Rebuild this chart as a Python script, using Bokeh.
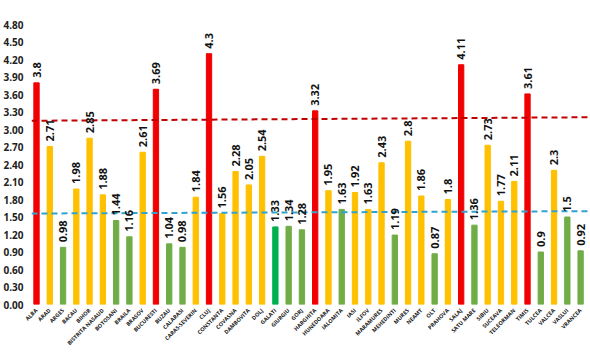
import math
from bokeh.plotting import figure
from bokeh.models import ColumnDataSource, Range1d, FixedTicker, LabelSet, NumeralTickFormatter
from bokeh.core.properties import value
from bokeh.embed import file_html
from bokeh.resources import INLINE

counties = ["ALBA", "ARAD", "ARGES", "BACAU", "BIHOR", "BISTRITA NASAUD", "BOTOSANI", "BRAILA",
            "BRASOV", "BUCURESTI", "BUZAU", "CALARASI", "CARAS-SEVERIN", "CLUJ", "CONSTANTA",
            "COVASNA", "DAMBOVITA", "DOLJ", "GALATI", "GIURGIU", "GORJ", "HARGHITA", "HUNEDOARA",
            "IALOMITA", "IASI", "ILFOV", "MARAMURES", "MEHEDINTI", "MURES", "NEAMT", "OLT",
            "PRAHOVA", "SALAJ", "SATU MARE", "SIBIU", "SUCEAVA", "TELEORMAN", "TIMIS", "TULCEA",
            "VALCEA", "VASLUI", "VRANCEA"]
values = [3.8, 2.71, 0.98, 1.98, 2.85, 1.88, 1.44, 1.16, 2.61, 3.69, 1.04, 0.98, 1.84, 4.3,
          1.56, 2.28, 2.05, 2.54, 1.33, 1.34, 1.28, 3.32, 1.95, 1.63, 1.92, 1.63, 2.43, 1.19,
          2.8, 1.86, 0.87, 1.8, 4.11, 1.36, 2.73, 1.77, 2.11, 3.61, 0.9, 2.3, 1.5, 0.92]
# colour class per county: r = red, y = yellow, g = green, d = dark green
classes = ["r", "y", "g", "y", "y", "y", "g", "g", "y", "r", "g", "g", "y", "r", "y", "y", "y",
           "y", "d", "g", "g", "r", "y", "g", "y", "y", "y", "g", "y", "y", "g", "y", "r", "g",
           "y", "y", "y", "r", "g", "y", "g", "g"]
palette = {"r": "#f00000", "y": "#ffc000", "g": "#70ad47", "d": "#00b050"}

# threshold lines (start value, end value)
red_line = [3.15, 3.21]
blue_line = [1.56, 1.60]
y_ticks = [round(0.3 * k, 2) for k in range(17)]

idx = list(range(len(counties)))
src = ColumnDataSource(dict(
    x=idx, top=values, color=[palette[c] for c in classes],
    label=[("%g" % v) for v in values]))

x0, x1 = -0.377, 41.67
p = figure(title=None, frame_width=558, frame_height=299, output_backend="svg",
           toolbar_location=None,
           x_range=Range1d(x0, x1), y_range=Range1d(0, 5.126),
           min_border_left=30, min_border_right=2, min_border_top=5, min_border_bottom=49,
           min_border=0)
p.outline_line_color = None
p.background_fill_color = "white"
p.border_fill_color = "white"
p.xgrid.visible = False
p.ygrid.visible = False

p.vbar(x="x", top="top", width=0.4, color="color", source=src)

xl = [x0, x1]
p.line(xl, red_line, line_color="#c00000", line_width=2, line_dash="6 4")
p.line(xl, blue_line, line_color="#2ea3d2", line_width=2, line_dash="6 4")

labels = LabelSet(x="x", y="top", text="label", source=src, angle=math.pi / 2,
                  text_align="left", text_baseline="middle", y_offset=5,
                  text_font_size=value("11px"), text_font_style="bold", text_color="#111111",
                  text_font=value("Open Sans"))
p.add_layout(labels)

for ax in (p.xaxis, p.yaxis):
    ax.axis_line_color = None
    ax.major_tick_line_color = None
    ax.minor_tick_line_color = None
    ax.major_tick_out = 0
    ax.major_tick_in = 0
    ax.minor_tick_out = 0
    ax.minor_tick_in = 0
    ax.axis_label_standoff = 0

p.xaxis.ticker = FixedTicker(ticks=idx)
p.xaxis.major_label_overrides = {i: c for i, c in enumerate(counties)}
p.xaxis.major_label_orientation = math.pi / 4
p.xaxis.major_label_text_font_size = "5.5px"
p.xaxis.major_label_text_font_style = "bold"
p.xaxis.major_label_text_font = "Open Sans"
p.xaxis.major_label_text_color = "#222222"
p.xaxis.major_label_standoff = 5

p.yaxis.ticker = FixedTicker(ticks=y_ticks)
p.yaxis.formatter = NumeralTickFormatter(format="0.00")
p.yaxis.major_label_text_font_size = "10px"
p.yaxis.major_label_text_font_style = "bold"
p.yaxis.major_label_text_font = "Open Sans"
p.yaxis.major_label_text_color = "#222222"
p.yaxis.major_label_standoff = 8

open("out.html", "w").write(file_html(p, INLINE))
